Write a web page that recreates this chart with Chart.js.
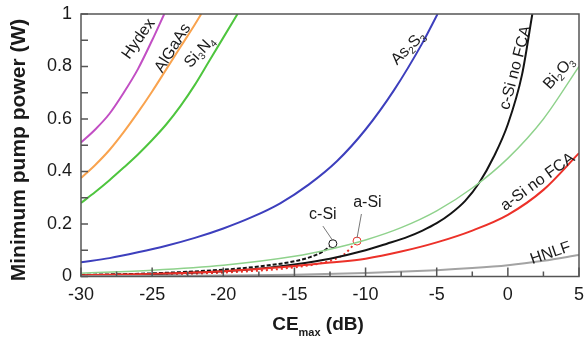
<!DOCTYPE html>
<html>
<head>
<meta charset="utf-8">
<script src="https://cdn.jsdelivr.net/npm/chart.js@4.4.1/dist/chart.umd.min.js"></script>
<style>
  html, body { margin: 0; padding: 0; background: #fff; }
  #wrap { width: 588px; height: 340px; position: relative; }
</style>
</head>
<body>
<div id="wrap"><canvas id="chart" width="588" height="340"></canvas></div>
<script>
(function () {
    "use strict";

    // Axis ticks
    const xTicks = [-30, -25, -20, -15, -10, -5, 0, 5];
    const xMinorTicks = [-27.5, -22.5, -17.5, -12.5, -7.5, -2.5, 2.5];
    const yTicks = [0, 0.2, 0.4, 0.6, 0.8, 1];
    const yMinorTicks = [0.1, 0.3, 0.5, 0.7, 0.9];

    // Series values (CEmax in dB, power in W)
    const hydexX = [-30, -29, -28, -27, -26, -25, -24.15];
    const hydexY = [0.51, 0.56, 0.62, 0.70, 0.79, 0.90, 1.0];

    const algaasX = [-30, -29, -28, -27, -26, -25, -24, -23, -22, -21.55];
    const algaasY = [0.375, 0.425, 0.482, 0.55, 0.625, 0.705, 0.79, 0.875, 0.96, 1.0];

    const sin4X = [-30, -29, -28, -27, -26, -25, -24, -23, -22, -21, -20, -19];
    const sin4Y = [0.28, 0.322, 0.367, 0.415, 0.465, 0.52, 0.58, 0.65, 0.73, 0.82, 0.91, 1.0];

    const as2s3X = [-30, -28, -26, -24, -22, -20, -18, -16, -14, -12, -10, -8, -6, -4.94];
    const as2s3Y = [0.054, 0.07, 0.092, 0.117, 0.147, 0.183, 0.226, 0.279, 0.35, 0.44, 0.56, 0.71, 0.89, 1.0];

    const bi2o3X = [-30, -25, -20, -15, -12.5, -10, -7.5, -5, -2.5, 0, 2.5, 5];
    const bi2o3Y = [0.013, 0.024, 0.043, 0.077, 0.104, 0.139, 0.186, 0.25, 0.337, 0.45, 0.6, 0.8];

    const csiNoFcaX = [-30, -25, -20, -17.5, -15, -12.5, -10, -8.5, -7, -6, -5, -4, -3, -2, -1, 0, 1, 1.72];
    const csiNoFcaY = [0.004, 0.009, 0.02, 0.03, 0.046, 0.068, 0.1, 0.125, 0.152, 0.175, 0.203, 0.24, 0.288, 0.358, 0.455, 0.58, 0.77, 1.0];

    const asiNoFcaX = [-30, -25, -20, -15, -12.5, -10, -7.5, -5, -2.5, 0, 2.5, 5];
    const asiNoFcaY = [0.005, 0.01, 0.02, 0.04, 0.053, 0.068, 0.095, 0.13, 0.175, 0.235, 0.33, 0.47];

    const hnlfX = [-30, -20, -15, -10, -5, -2.5, 0, 2.5, 5];
    const hnlfY = [0.001, 0.004, 0.007, 0.013, 0.024, 0.032, 0.043, 0.06, 0.082];

    const csiX = [-30, -25, -20, -17.5, -15, -14, -13, -12.3];
    const csiY = [0.006, 0.012, 0.026, 0.038, 0.058, 0.072, 0.095, 0.125];

    const asiX = [-30, -25, -20, -15, -12.5, -11.5, -10.6];
    const asiY = [0.003, 0.007, 0.015, 0.035, 0.06, 0.085, 0.135];

    const FONT = "'Liberation Sans', Arial, Helvetica, sans-serif";

    function pts(xs, ys) {
        return xs.map((x, i) => ({ x: x, y: ys[i] }));
    }

    function line(label, xs, ys, color, width, extra) {
        return Object.assign({
            label: label,
            data: pts(xs, ys),
            borderColor: color,
            backgroundColor: color,
            borderWidth: width,
            pointRadius: 0,
            cubicInterpolationMode: 'monotone',
            fill: false
        }, extra || {});
    }

    const endMarker = (n) => (ctx) => (ctx.dataIndex === n - 1 ? 4 : 0);

    const datasets = [
        line('HNLF', hnlfX, hnlfY, '#a3a3a3', 2),
        line('Bi2O3', bi2o3X, bi2o3Y, '#8fd28c', 1.4),
        line('a-Si no FCA', asiNoFcaX, asiNoFcaY, '#ec3129', 2),
        line('c-Si no FCA', csiNoFcaX, csiNoFcaY, '#141414', 2),
        line('c-Si', csiX, csiY, '#141414', 2, {
            borderDash: [4, 2],
            pointRadius: endMarker(csiX.length),
            pointBackgroundColor: '#fff',
            pointBorderWidth: 1
        }),
        line('a-Si', asiX, asiY, '#ec3129', 2, {
            borderDash: [2, 3],
            pointRadius: endMarker(asiX.length),
            pointBackgroundColor: '#fff',
            pointBorderWidth: 1
        }),
        line('As2S3', as2s3X, as2s3Y, '#3d3fbd', 2),
        line('Si3N4', sin4X, sin4Y, '#4ec53e', 2),
        line('AlGaAs', algaasX, algaasY, '#f9a34e', 2),
        line('Hydex', hydexX, hydexY, '#c24fc4', 2)
    ];

    // Curve labels: text pieces (sub = subscript), anchor in data units, rotation in degrees
    const curveLabels = [
        { parts: [['Hydex']], x: -25.95, y: 0.905, rot: -55 },
        { parts: [['AlGaAs']], x: -23.55, y: 0.87, rot: -58 },
        { parts: [['Si'], ['3', 1], ['N'], ['4', 1]], x: -21.65, y: 0.855, rot: -47 },
        { parts: [['As'], ['2', 1], ['S'], ['3', 1]], x: -7.0, y: 0.87, rot: -45 },
        { parts: [['c-Si no FCA']], x: 0.55, y: 0.795, rot: -75 },
        { parts: [['Bi'], ['2', 1], ['O'], ['3', 1]], x: 3.6, y: 0.775, rot: -48 },
        { parts: [['a-Si no FCA']], x: 2.1, y: 0.36, rot: -36 },
        { parts: [['HNLF']], x: 3.0, y: 0.088, rot: -19 }
    ];

    const pointerLabels = [
        { text: 'c-Si', x: -13.0, y: 0.234, toX: csiX[csiX.length - 1], toY: csiY[csiY.length - 1] },
        { text: 'a-Si', x: -9.87, y: 0.28, toX: asiX[asiX.length - 1], toY: asiY[asiY.length - 1] }
    ];

    function drawParts(ctx, parts, size) {
        let total = 0;
        const widths = parts.map(p => {
            ctx.font = (p[1] ? Math.round(size * 0.62) : size) + 'px ' + FONT;
            const w = ctx.measureText(p[0]).width;
            total += w;
            return w;
        });
        let cx = -total / 2;
        parts.forEach((p, i) => {
            ctx.font = (p[1] ? Math.round(size * 0.62) : size) + 'px ' + FONT;
            ctx.fillText(p[0], cx, p[1] ? size * 0.3 : 0);
            cx += widths[i];
        });
    }

    const decorations = {
        id: 'decorations',
        afterDraw(chart) {
            const ctx = chart.ctx;
            const a = chart.chartArea;
            const xs = chart.scales.x;
            const ys = chart.scales.y;
            ctx.save();

            // inward ticks
            ctx.strokeStyle = '#555';
            ctx.lineWidth = 1.5;
            ctx.beginPath();
            xTicks.forEach(v => { const px = xs.getPixelForValue(v); ctx.moveTo(px, a.bottom); ctx.lineTo(px, a.bottom - 9); });
            xMinorTicks.forEach(v => { const px = xs.getPixelForValue(v); ctx.moveTo(px, a.bottom); ctx.lineTo(px, a.bottom - 5); });
            yTicks.concat(yMinorTicks).forEach(v => { const py = ys.getPixelForValue(v); ctx.moveTo(a.left, py); ctx.lineTo(a.left + 7, py); });
            ctx.stroke();

            // frame
            ctx.strokeRect(a.left, a.top, a.right - a.left, a.bottom - a.top);

            // curve labels
            ctx.fillStyle = '#1a1a1a';
            ctx.textBaseline = 'middle';
            ctx.textAlign = 'left';
            curveLabels.forEach(l => {
                ctx.save();
                ctx.translate(xs.getPixelForValue(l.x), ys.getPixelForValue(l.y));
                ctx.rotate(l.rot * Math.PI / 180);
                drawParts(ctx, l.parts, 16);
                ctx.restore();
            });

            // pointer labels
            ctx.font = '16px ' + FONT;
            ctx.textAlign = 'center';
            pointerLabels.forEach(l => {
                const lx = xs.getPixelForValue(l.x);
                const ly = ys.getPixelForValue(l.y);
                ctx.fillText(l.text, lx, ly);
                const tx = xs.getPixelForValue(l.toX);
                const ty = ys.getPixelForValue(l.toY);
                ctx.strokeStyle = '#777';
                ctx.lineWidth = 1;
                ctx.beginPath();
                ctx.moveTo(lx + (l.text === 'c-Si' ? 0 : -6), ly + 11);
                ctx.lineTo(tx, ty - 3);
                ctx.stroke();
            });

            // axis titles
            ctx.fillStyle = '#1a1a1a';
            ctx.textAlign = 'left';
            ctx.textBaseline = 'alphabetic';
            ctx.font = 'bold 19px ' + FONT;
            const w1 = ctx.measureText('CE').width;
            ctx.font = 'bold 11px ' + FONT;
            const w2 = ctx.measureText('max').width;
            ctx.font = 'bold 19px ' + FONT;
            const w3 = ctx.measureText(' (dB)').width;
            const cx = 318;
            const sx = cx - (w1 + w2 + w3) / 2;
            ctx.fillText('CE', sx, 330);
            ctx.font = 'bold 11px ' + FONT;
            ctx.fillText('max', sx + w1, 336);
            ctx.font = 'bold 19px ' + FONT;
            ctx.fillText(' (dB)', sx + w1 + w2, 330);

            ctx.save();
            ctx.translate(25, 150);
            ctx.rotate(-Math.PI / 2);
            ctx.textAlign = 'center';
            ctx.font = 'bold 21px ' + FONT;
            ctx.fillText('Minimum pump power (W)', 0, 0);
            ctx.restore();

            ctx.restore();
        }
    };

    new Chart(document.getElementById('chart'), {
        type: 'line',
        data: { datasets },
        options: {
            responsive: false,
            animation: false,
            events: [],
            layout: { padding: { left: 0, right: 9, top: 14, bottom: 0 } },
            plugins: { legend: { display: false }, tooltip: { enabled: false } },
            scales: {
                x: {
                    type: 'linear',
                    min: -30,
                    max: 5,
                    afterBuildTicks: (s) => { s.ticks = xTicks.map(v => ({ value: v })); },
                    afterFit: (s) => { s.height = 63.5; s.paddingLeft = 0; s.paddingRight = 0; },
                    grid: { display: false, drawTicks: false },
                    border: { display: false },
                    ticks: {
                        padding: 8,
                        color: '#1a1a1a',
                        font: { family: FONT, size: 18 },
                        maxRotation: 0,
                        callback: (v) => String(v)
                    }
                },
                y: {
                    type: 'linear',
                    min: 0,
                    max: 1,
                    afterBuildTicks: (s) => { s.ticks = yTicks.map(v => ({ value: v })); },
                    afterFit: (s) => { s.width = 81; s.paddingTop = 0; s.paddingBottom = 0; },
                    grid: { display: false, drawTicks: false },
                    border: { display: false },
                    ticks: {
                        padding: 9,
                        color: '#1a1a1a',
                        font: { family: FONT, size: 18 },
                        callback: (v) => String(Math.round(v * 10) / 10)
                    }
                }
            }
        },
        plugins: [decorations]
    });
})();
</script>
</body>
</html>
